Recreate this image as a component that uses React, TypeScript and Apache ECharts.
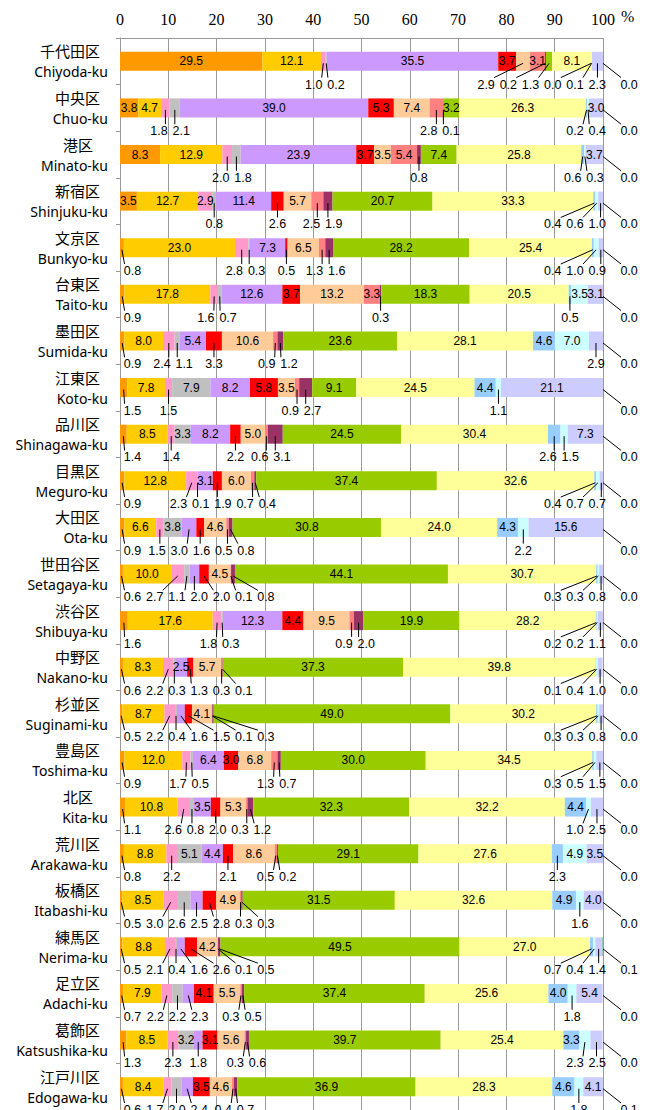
import React, { useEffect, useRef } from 'react';
import * as echarts from 'echarts';

const wardsJa = ['千代田区','中央区','港区','新宿区','文京区','台東区','墨田区','江東区','品川区','目黒区','大田区','世田谷区','渋谷区','中野区','杉並区','豊島区','北区','荒川区','板橋区','練馬区','足立区','葛飾区','江戸川区'];
const wardsEn = ['Chiyoda-ku','Chuo-ku','Minato-ku','Shinjuku-ku','Bunkyo-ku','Taito-ku','Sumida-ku','Koto-ku','Shinagawa-ku','Meguro-ku','Ota-ku','Setagaya-ku','Shibuya-ku','Nakano-ku','Suginami-ku','Toshima-ku','Kita-ku','Arakawa-ku','Itabashi-ku','Nerima-ku','Adachi-ku','Katsushika-ku','Edogawa-ku'];

const xTicks = [0, 10, 20, 30, 40, 50, 60, 70, 80, 90, 100];

// 15 segments per ward (percent), in stacking order
const chiyoda = [29.5, 12.1, 1.0, 0.2, 35.5, 3.7, 2.9, 3.1, 0.2, 1.3, 8.1, 0.0, 0.1, 2.3, 0.0];
const chuo = [3.8, 4.7, 1.8, 2.1, 39.0, 5.3, 7.4, 2.8, 0.1, 3.2, 26.3, 0.2, 0.4, 3.0, 0.0];
const minato = [8.3, 12.9, 2.0, 1.8, 23.9, 3.7, 3.5, 5.4, 0.8, 7.4, 25.8, 0.6, 0.3, 3.7, 0.0];
const shinjuku = [3.5, 12.7, 2.9, 0.8, 11.4, 2.6, 5.7, 2.5, 1.9, 20.7, 33.3, 0.4, 0.6, 1.0, 0.0];
const bunkyo = [0.8, 23.0, 2.8, 0.3, 7.3, 0.5, 6.5, 1.3, 1.6, 28.2, 25.4, 0.4, 1.0, 0.9, 0.0];
const taito = [0.9, 17.8, 1.6, 0.7, 12.6, 3.7, 13.2, 3.3, 0.3, 18.3, 20.5, 0.5, 3.5, 3.1, 0.0];
const sumida = [0.9, 8.0, 2.4, 1.1, 5.4, 3.3, 10.6, 0.9, 1.2, 23.6, 28.1, 4.6, 7.0, 2.9, 0.0];
const koto = [1.5, 7.8, 1.5, 7.9, 8.2, 5.8, 3.5, 0.9, 2.7, 9.1, 24.5, 4.4, 1.1, 21.1, 0.0];
const shinagawa = [1.4, 8.5, 1.4, 3.3, 8.2, 2.2, 5.0, 0.6, 3.1, 24.5, 30.4, 2.6, 1.5, 7.3, 0.0];
const meguro = [0.9, 12.8, 2.3, 0.1, 3.1, 1.9, 6.0, 0.7, 0.4, 37.4, 32.6, 0.4, 0.7, 0.7, 0.0];
const ota = [0.9, 6.6, 1.5, 3.8, 3.0, 1.6, 4.6, 0.5, 0.8, 30.8, 24.0, 4.3, 2.2, 15.6, 0.0];
const setagaya = [0.6, 10.0, 2.7, 1.1, 2.0, 2.0, 4.5, 0.1, 0.8, 44.1, 30.7, 0.3, 0.3, 0.8, 0.0];
const shibuya = [1.6, 17.6, 1.8, 0.3, 12.3, 4.4, 9.5, 0.9, 2.0, 19.9, 28.2, 0.2, 0.2, 1.1, 0.0];
const nakano = [0.6, 8.3, 2.2, 0.3, 2.5, 1.3, 5.7, 0.3, 0.1, 37.3, 39.8, 0.1, 0.4, 1.0, 0.0];
const suginami = [0.5, 8.7, 2.2, 0.4, 1.6, 1.5, 4.1, 0.1, 0.3, 49.0, 30.2, 0.3, 0.3, 0.8, 0.0];
const toshima = [0.9, 12.0, 1.7, 0.5, 6.4, 3.0, 6.8, 1.3, 0.7, 30.0, 34.5, 0.3, 0.5, 1.5, 0.0];
const kita = [1.1, 10.8, 2.6, 0.8, 3.5, 2.0, 5.3, 0.3, 1.2, 32.3, 32.2, 4.4, 1.0, 2.5, 0.0];
const arakawa = [0.8, 8.8, 2.2, 5.1, 4.4, 2.1, 8.6, 0.5, 0.2, 29.1, 27.6, 2.3, 4.9, 3.5, 0.0];
const itabashi = [0.5, 8.5, 3.0, 2.6, 2.5, 2.8, 4.9, 0.3, 0.3, 31.5, 32.6, 4.9, 1.6, 4.0, 0.0];
const nerima = [0.5, 8.8, 2.1, 0.4, 1.6, 2.6, 4.2, 0.1, 0.5, 49.5, 27.0, 0.7, 0.4, 1.4, 0.1];
const adachi = [0.7, 7.9, 2.2, 2.2, 2.3, 4.1, 5.5, 0.3, 0.5, 37.4, 25.6, 4.0, 1.8, 5.4, 0.0];
const katsushika = [1.3, 8.5, 2.3, 3.2, 1.8, 3.1, 5.6, 0.3, 0.6, 39.7, 25.4, 3.3, 2.3, 2.5, 0.0];
const edogawa = [0.6, 8.4, 1.7, 2.0, 2.4, 3.5, 4.6, 0.4, 0.7, 36.9, 28.3, 4.6, 1.8, 4.1, 0.1];

const rows = [chiyoda, chuo, minato, shinjuku, bunkyo, taito, sumida, koto, shinagawa, meguro, ota, setagaya, shibuya, nakano, suginami, toshima, kita, arakawa, itabashi, nerima, adachi, katsushika, edogawa];

const segColors = ['#FF9900', '#FFCC00', '#FF99CC', '#C0C0C0', '#CC99FF', '#FF0000', '#FFCC99', '#FF8080', '#993366', '#99CC00', '#FFFF99', '#99CCFF', '#CCFFFF', '#CCCCFF', '#339966'];

// labels drawn below the bar although >= 3.0, and inside although < 3.0 ("ward:segment")
const forcedOutside = ['6:5', '8:8', '10:4', '18:2'];
const forcedInside = ['3:2', '13:4'];

const isInside = (w: number, s: number) => {
  if (s === 14) return false;
  const k = w + ':' + s;
  if (forcedOutside.includes(k)) return false;
  if (forcedInside.includes(k)) return true;
  return rows[w][s] >= 3.0;
};

function spread(targets: number[], gap: number, lo: number, hi: number): number[] {
  type C = { i0: number; n: number; s: number };
  const cl: C[] = [];
  const fit = (c: C) => {
    let sum = 0;
    for (let k = 0; k < c.n; k++) sum += targets[c.i0 + k] - k * gap;
    let s = sum / c.n;
    s = Math.max(lo, Math.min(hi - (c.n - 1) * gap, s));
    c.s = s;
  };
  for (let i = 0; i < targets.length; i++) {
    const c = { i0: i, n: 1, s: 0 };
    fit(c);
    cl.push(c);
    while (cl.length > 1) {
      const b = cl[cl.length - 1];
      const a = cl[cl.length - 2];
      if (a.s + a.n * gap > b.s + 1e-9) {
        a.n += b.n;
        cl.pop();
        fit(a);
      } else break;
    }
  }
  const out: number[] = [];
  cl.forEach((c) => {
    for (let k = 0; k < c.n; k++) out.push(c.s + k * gap);
  });
  return out;
}

function buildOutsideLabels() {
  const data: number[][] = [];
  rows.forEach((row, w) => {
    const targets: number[] = [];
    const vals: number[] = [];
    let cum = 0;
    row.forEach((v, s) => {
      const mid = cum + v / 2;
      cum += v;
      if (s === 14) {
        data.push([100, w, 105.4, v]);
        return;
      }
      if (!isInside(w, s)) {
        targets.push(mid);
        vals.push(v);
      }
    });
    const pos = spread(targets, 4.6, 2.6, 98.8);
    targets.forEach((t, i) => data.push([t, w, pos[i], vals[i]]));
  });
  return data;
}

export default function App() {
  const ref = useRef<HTMLDivElement>(null);
  useEffect(() => {
    if (!ref.current) return;
    const chart = echarts.init(ref.current, undefined, { renderer: 'svg' });
    const labelFont = 'Liberation Sans, Arial, sans-serif';

    const barSeries = segColors.map((color, s) => ({
      type: 'bar',
      stack: 'total',
      barWidth: 19,
      silent: true,
      itemStyle: { color },
      label: {
        show: true,
        position: 'inside',
        color: '#000',
        fontSize: 12,
        fontFamily: labelFont,
        formatter: (p: any) => (isInside(p.dataIndex, s) ? Number(p.value).toFixed(1) : ''),
      },
      data: rows.map((r) => r[s]),
      z: 2,
    }));

    const outData = buildOutsideLabels();

    const customSeries = {
      type: 'custom',
      silent: true,
      clip: false,
      z: 5,
      encode: { x: 0, y: 1 },
      data: outData,
      renderItem: (params: any, api: any) => {
        const w = api.value(1);
        const t = api.coord([api.value(0), w]);
        const l = api.coord([api.value(2), w]);
        const band = api.size([0, 1])[1];
        const ly = t[1] + band * 0.5;
        const dx = t[0] - l[0];
        const endX = l[0] + Math.max(-8, Math.min(8, dx));
        return {
          type: 'group',
          children: [
            {
              type: 'line',
              shape: { x1: t[0], y1: t[1] + 2, x2: endX, y2: ly - 7 },
              style: { stroke: '#000', lineWidth: 1 },
            },
            {
              type: 'text',
              x: l[0],
              y: ly,
              style: {
                text: Number(api.value(3)).toFixed(1),
                fontSize: 12.5,
                fontFamily: labelFont,
                fill: '#000',
                align: 'center',
                verticalAlign: 'middle',
              },
            },
          ],
        };
      },
    };

    chart.setOption({
      animation: false,
      grid: { left: 120, right: 49, top: 38, bottom: 0, containLabel: false },
      xAxis: {
        type: 'value',
        position: 'top',
        min: 0,
        max: 100,
        interval: 10,
        axisLine: { show: true, lineStyle: { color: '#999', width: 1 } },
        axisTick: { show: false },
        splitLine: { show: true, lineStyle: { color: '#999', width: 1 } },
        axisLabel: {
          color: '#000',
          fontSize: 16,
          fontFamily: 'Liberation Serif, serif',
          margin: 11,
          formatter: (v: number) => (xTicks.includes(v) ? String(v) : ''),
        },
      },
      yAxis: {
        type: 'category',
        inverse: true,
        data: wardsJa,
        axisLine: { show: true, lineStyle: { color: '#999', width: 1 } },
        axisTick: { show: true, length: 4, lineStyle: { color: '#999' } },
        splitLine: { show: false },
        axisLabel: {
          margin: 12,
          align: 'right',
          formatter: (value: string, idx: number) =>
            `{${value.length <= 2 ? 'ja2' : 'ja'}|${value}}\n{en|${wardsEn[idx]}}`,
          rich: {
            ja: { fontSize: 15, fontFamily: 'Noto Sans CJK JP', color: '#000', lineHeight: 21, padding: [0, 8, 0, 0] },
            ja2: { fontSize: 15, fontFamily: 'Noto Sans CJK JP', color: '#000', lineHeight: 21, padding: [0, 15, 0, 0] },
            en: { fontSize: 14, fontFamily: 'Noto Sans, sans-serif', color: '#000', lineHeight: 21 },
          },
        },
      },
      graphic: [
        {
          type: 'text',
          left: 621,
          top: 8,
          style: { text: '%', fontSize: 16, fontFamily: 'Liberation Serif, serif', fill: '#000' },
        },
      ],
      series: [...barSeries, customSeries],
    });
    return () => chart.dispose();
  }, []);
  return (
    <div
      ref={ref}
      style={{ position: 'absolute', left: 0, top: 0, width: 652, height: 1110, background: '#fff' }}
    />
  );
}
